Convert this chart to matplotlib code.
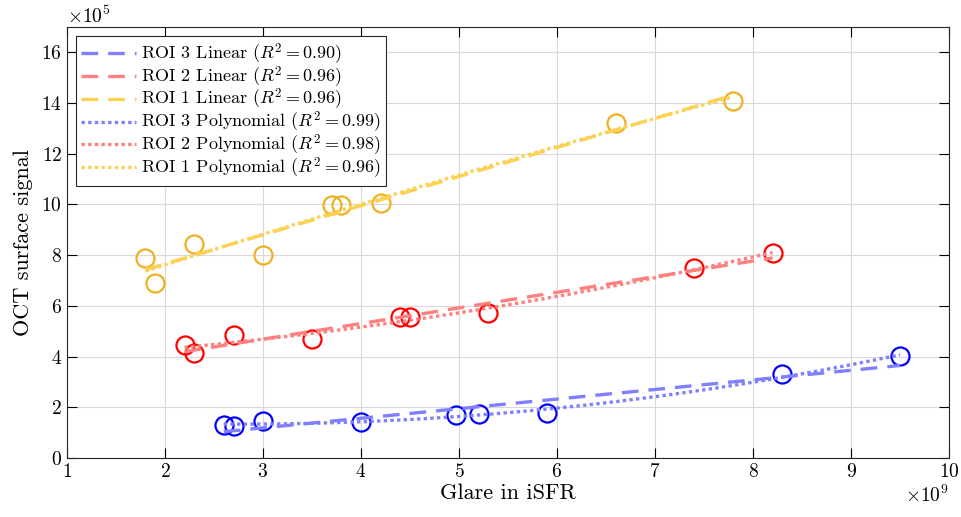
import numpy as np
import matplotlib
matplotlib.use("Agg")
import matplotlib.pyplot as plt

plt.rcParams['font.family'] = 'serif'
plt.rcParams['font.serif'] = ['cmr10']
plt.rcParams['mathtext.fontset'] = 'cm'
plt.rcParams['axes.formatter.use_mathtext'] = True

# glare (iSFR) and OCT surface signal per ROI
glare_roi1 = np.array([1.8, 1.9, 2.3, 3.0, 3.7, 3.8, 4.2, 6.6, 7.8]) * 1e9
oct_roi1 = np.array([7.9, 6.9, 8.45, 8.0, 9.97, 9.97, 10.05, 13.2, 14.1]) * 1e5
glare_roi2 = np.array([2.2, 2.3, 2.7, 3.5, 4.4, 4.5, 5.3, 7.4, 8.2]) * 1e9
oct_roi2 = np.array([4.45, 4.15, 4.85, 4.68, 5.55, 5.55, 5.7, 7.5, 8.08]) * 1e5
glare_roi3 = np.array([2.6, 2.7, 3.0, 4.0, 4.97, 5.2, 5.9, 8.3, 9.5]) * 1e9
oct_roi3 = np.array([1.3, 1.27, 1.47, 1.42, 1.7, 1.72, 1.76, 3.3, 4.02]) * 1e5

r2_lin = {3: 0.90, 2: 0.96, 1: 0.96}
r2_poly = {3: 0.99, 2: 0.98, 1: 0.96}

marker_colors = {1: (0.929, 0.694, 0.125), 2: (1, 0, 0), 3: (0, 0, 1)}
line_colors = {1: (0.99, 0.82, 0.33), 2: (1.0, 0.5, 0.5), 3: (0.5, 0.5, 1.0)}
data = {1: (glare_roi1, oct_roi1), 2: (glare_roi2, oct_roi2), 3: (glare_roi3, oct_roi3)}

fig = plt.figure(figsize=(9.62, 5.17), dpi=100)
ax = fig.add_axes([0.0696, 0.1141, 0.9169, 0.8337])

lin_handles = {}
poly_handles = {}
for roi in (1, 2, 3):
    x, y = data[roi]
    ax.plot(x, y, 'o', mfc='none', mec=marker_colors[roi], ms=13, mew=1.6, zorder=3)
    xs = np.linspace(x.min(), x.max(), 100)
    xn = x / 1e9
    lin = np.polyfit(xn, y, 1)
    quad = np.polyfit(xn, y, 2)
    lin_handles[roi], = ax.plot(xs, np.polyval(lin, xs / 1e9), '--', color=line_colors[roi],
                                lw=2.4, dashes=(5, 3), zorder=4,
                                label=f'ROI {roi} Linear ($R^2 = {r2_lin[roi]:.2f}$)')
    poly_handles[roi], = ax.plot(xs, np.polyval(quad, xs / 1e9), ':', color=line_colors[roi],
                                 lw=2.4, dashes=(1, 1), zorder=4,
                                 label=f'ROI {roi} Polynomial ($R^2 = {r2_poly[roi]:.2f}$)')

handles = [lin_handles[3], lin_handles[2], lin_handles[1],
           poly_handles[3], poly_handles[2], poly_handles[1]]
leg = ax.legend(handles=handles, loc='upper left', fontsize=13, fancybox=False,
                framealpha=1, edgecolor='#262626', handlelength=3.0, handletextpad=0.3,
                borderpad=0.3, labelspacing=-0.13, borderaxespad=0.5)
leg.get_frame().set_linewidth(0.8)

ax.set_xlim(1e9, 10e9)
ax.set_ylim(0, 17e5)
ax.set_xticks(np.arange(1, 11) * 1e9)
ax.set_yticks(np.arange(0, 17, 2) * 1e5)
ax.ticklabel_format(axis='x', style='sci', scilimits=(9, 9))
ax.ticklabel_format(axis='y', style='sci', scilimits=(5, 5))
ax.tick_params(direction='in', top=True, right=True, labelsize=14, length=7, width=0.8)
ax.grid(True, color='#d9d9d9', lw=0.8)
ax.set_axisbelow(True)
for s in ax.spines.values():
    s.set_linewidth(0.8)
    s.set_color('#262626')
ax.xaxis.get_offset_text().set_fontsize(14)
ax.yaxis.get_offset_text().set_fontsize(14)
ax.set_xlabel('Glare in iSFR', fontsize=16, labelpad=2)
ax.set_ylabel('OCT surface signal', fontsize=16, labelpad=6)

fig.savefig('out.png', dpi=100)
